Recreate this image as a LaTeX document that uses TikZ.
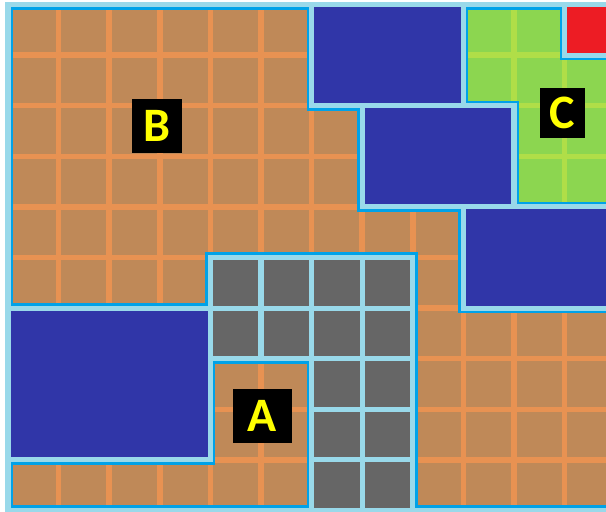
\documentclass[tikz,border=0pt]{standalone}
\usepackage{fontspec}
\setmainfont{Carlito}
\usepackage{tikz}
\definecolor{LightTurq}{RGB}{153,217,234}
\definecolor{Turq}{RGB}{0,162,232}
\definecolor{CellBrown}{RGB}{191,137,88}
\definecolor{GridOrange}{RGB}{232,146,82}
\definecolor{CellGreen}{RGB}{140,214,80}
\definecolor{GridLime}{RGB}{176,222,72}
\definecolor{DeepIndigo}{RGB}{48,54,168}
\definecolor{CellGrey}{RGB}{102,102,102}
\definecolor{PaintRed}{RGB}{237,28,36}
\definecolor{LabelYellow}{RGB}{255,255,0}
\tikzset{
  cellgap/.style={draw=LightTurq,line width=1mm},
  regionrim/.style={draw=Turq,line width=2mm},
  innergrid/.style={line width=1.1mm},
  blockfill/.style={fill=DeepIndigo,draw=LightTurq,line width=1mm},
  greycell/.style={fill=CellGrey,draw=LightTurq,line width=1mm},
  redcell/.style={fill=PaintRed,draw=LightTurq,line width=1mm},
  labeltag/.style={fill=black,text=LabelYellow,inner sep=0pt,font=\fontsize{27}{27}\selectfont\bfseries}
}
\newcommand\outlineB{(0,0) -| (6,2) -| (7,4) -| (9,6) -| (12,10) -| (8,5) -| (4,6) -- (0,6) -- cycle}
\newcommand\outlineA{(4,7) -| (6,10) -| (0,9) -- (4,9) -- cycle}
\newcommand\outlineC{(9,0) -| (11,1) -| (12,4) -| (10,2) -- (9,2) -- cycle}
\newcommand\paintregion[3]{%
  \begin{scope}
    \clip #1;
    \fill[#2] (-1,-1) rectangle (13,11);
    \draw[innergrid,#3] (-1,-1) grid (13,11);
    \draw[regionrim] #1;
  \end{scope}
  \draw[cellgap] #1;}

\begin{document}
\begin{tikzpicture}[x=1cm,y=-1cm]
\useasboundingbox (-0.158,-0.089) rectangle (11.818,10.01);
\clip (-0.158,-0.089) rectangle (11.818,10.01);
\fill[white] (-0.158,-0.089) rectangle (11.818,10.01);
\fill[LightTurq] (-0.04,-0.05) rectangle (11.818,10.01);

\filldraw[blockfill] (6,0) rectangle (9,2);
\filldraw[blockfill] (7,2) rectangle (10,4);
\filldraw[blockfill] (9,4) rectangle (12,6);
\filldraw[blockfill] (0,6) rectangle (4,9);

\foreach \c in {4,...,7}
  \foreach \r in {5,6}
    \filldraw[greycell] (\c,\r) rectangle ++(1,1);
\foreach \c in {6,7}
  \foreach \r in {7,8,9}
    \filldraw[greycell] (\c,\r) rectangle ++(1,1);
\filldraw[redcell] (11,0) rectangle (12,1);

\paintregion{\outlineB}{CellBrown}{GridOrange}
\paintregion{\outlineA}{CellBrown}{GridOrange}
\paintregion{\outlineC}{CellGreen}{GridLime}

\node[labeltag,minimum width=0.988cm,minimum height=1.067cm] (labB) at (2.945,2.401) {B};
\node[labeltag,minimum width=0.889cm,minimum height=0.988cm] (labC) at (10.958,2.144) {C};
\node[labeltag,minimum width=1.166cm,minimum height=1.067cm] (labA) at (5.030,8.132) {A};
\end{tikzpicture}
\end{document}
